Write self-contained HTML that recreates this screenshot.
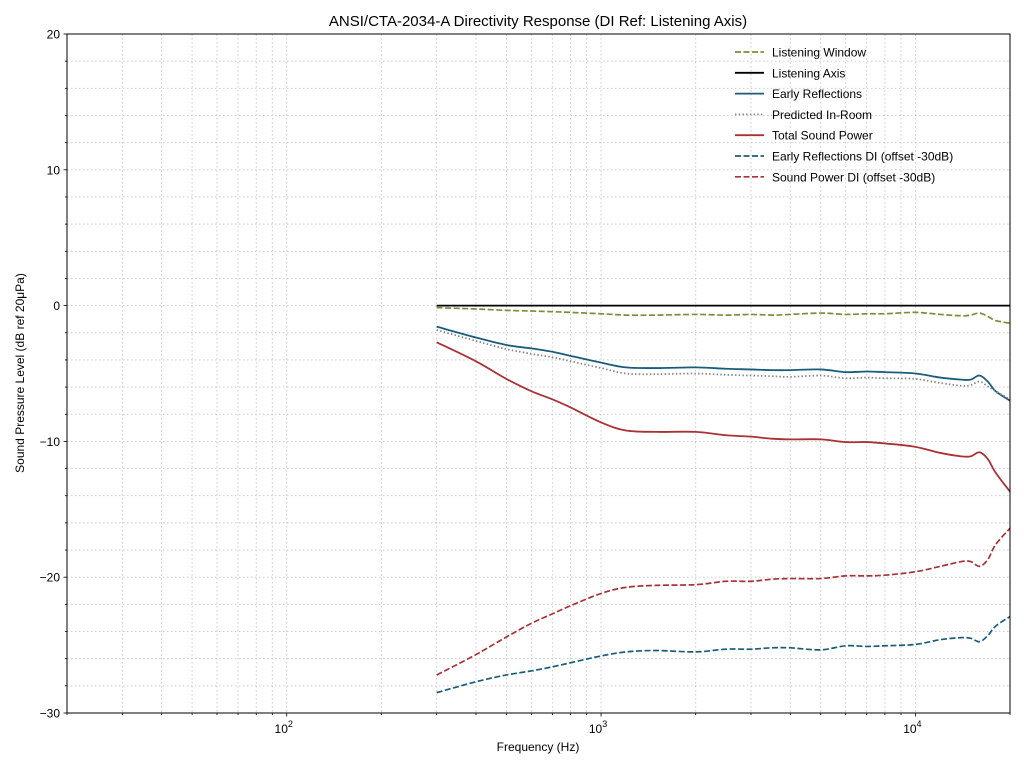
<!DOCTYPE html>
<html><head><meta charset="utf-8"><style>
body{margin:0;background:#fff;}
svg text{font-family:"Liberation Sans","DejaVu Sans",sans-serif;}
</style></head><body>
<svg id="chart" width="1024" height="768" xmlns="http://www.w3.org/2000/svg">
<rect width="1024" height="768" fill="#fff"/>
<text x="538" y="26" text-anchor="middle" font-size="15">ANSI/CTA-2034-A Directivity Response (DI Ref: Listening Axis)</text>
<g id="grid"></g>
<g id="series"></g>
<rect x="67" y="34" width="943" height="679" fill="none" stroke="#000" stroke-width="1"/>
<g id="axes"></g>
<text x="538" y="751" text-anchor="middle" font-size="12">Frequency (Hz)</text>
<text transform="translate(24,373) rotate(-90)" text-anchor="middle" font-size="12">Sound Pressure Level (dB ref 20μPa)</text>
<g id="legend"></g>
</svg>
<script>
const freqs = [300,400,500,600,700,800,1000,1200,1500,2000,2500,3000,3500,4000,5000,6000,7000,8000,10000,12000,14000,15000,16000,17000,18000,20000];
const listeningWindow = [-0.15,-0.25,-0.35,-0.4,-0.45,-0.5,-0.6,-0.7,-0.7,-0.65,-0.7,-0.65,-0.7,-0.65,-0.55,-0.65,-0.6,-0.6,-0.5,-0.65,-0.75,-0.7,-0.55,-0.8,-1.1,-1.3];
const listeningAxis = [0,0,0,0,0,0,0,0,0,0,0,0,0,0,0,0,0,0,0,0,0,0,0,0,0,0];
const earlyReflections = [-1.55,-2.35,-2.9,-3.15,-3.4,-3.7,-4.2,-4.55,-4.6,-4.55,-4.65,-4.7,-4.75,-4.75,-4.7,-4.9,-4.85,-4.9,-5.0,-5.3,-5.45,-5.45,-5.15,-5.6,-6.3,-7.0];
const predictedInRoom = [-1.8,-2.6,-3.2,-3.55,-3.8,-4.1,-4.6,-5.0,-5.05,-5.0,-5.1,-5.15,-5.2,-5.25,-5.15,-5.35,-5.3,-5.35,-5.4,-5.7,-5.9,-5.85,-5.6,-5.95,-6.3,-6.9];
const totalSoundPower = [-2.7,-4.1,-5.4,-6.3,-6.9,-7.5,-8.6,-9.2,-9.3,-9.3,-9.55,-9.65,-9.8,-9.85,-9.85,-10.05,-10.05,-10.15,-10.4,-10.85,-11.1,-11.1,-10.8,-11.3,-12.3,-13.7];
const earlyReflectionsDI = [-28.5,-27.7,-27.2,-26.9,-26.6,-26.3,-25.8,-25.5,-25.4,-25.5,-25.3,-25.3,-25.2,-25.2,-25.35,-25.05,-25.1,-25.05,-24.95,-24.6,-24.45,-24.5,-24.75,-24.3,-23.6,-22.9];
const soundPowerDI = [-27.2,-25.7,-24.4,-23.4,-22.7,-22.1,-21.2,-20.75,-20.6,-20.55,-20.3,-20.3,-20.15,-20.1,-20.1,-19.9,-19.9,-19.85,-19.6,-19.2,-18.85,-18.85,-19.2,-18.7,-17.6,-16.4];
const yTicks = [20,10,0,-10,-20,-30];
const yTickLabels = ["20","10","0","\u221210","\u221220","\u221230"];
const xDecades = [100,1000,10000];
const xDecadeLabels = ["2","3","4"];

const NS="http://www.w3.org/2000/svg";
const L=67,R=1010,T=34,B=713, xmin=20,xmax=20000,ymin=-30,ymax=20;
const X=f=>L+(Math.log10(f)-Math.log10(xmin))/(Math.log10(xmax)-Math.log10(xmin))*(R-L);
const Y=v=>B-(v-ymin)/(ymax-ymin)*(B-T);
function mk(tag,attrs,parent){const e=document.createElementNS(NS,tag);for(const k in attrs)e.setAttribute(k,attrs[k]);parent.appendChild(e);return e;}
const grid=document.getElementById('grid'),axes=document.getElementById('axes');
for(let d=10;d<=10000;d*=10){for(let m=1;m<10;m++){const f=d*m;if(f<xmin||f>xmax)continue;const x=X(f);
 const g=mk('line',{x1:x,x2:x,y1:T,y2:B,stroke:'#c6c6c6','stroke-width':0.9,'stroke-dasharray':'1.5,2.5'},grid);
 
 
 const t=mk('line',{x1:x,x2:x,y1:B,y2:B+(m===1?3.5:2),stroke:'#000','stroke-width':0.8},axes);
 
 
}}
for(let v=ymin;v<=ymax;v+=2){const y=Y(v);const major=(v%10===0);
 if(v>ymin&&v<ymax){const g=mk('line',{x1:L,x2:R,y1:y,y2:y,stroke:'#c6c6c6','stroke-width':0.9,'stroke-dasharray':'1.5,2.5'},grid);
 
 }
 const t=mk('line',{x1:L-(major?3.5:2),x2:L,y1:y,y2:y,stroke:'#000','stroke-width':0.8},axes);
 
 
}
yTicks.forEach((v,i)=>{const t=mk('text',{x:L-7,y:Y(v)+4.5,'text-anchor':'end','font-size':12},axes);t.textContent=yTickLabels[i];
 
 });
xDecades.forEach((f,i)=>{const t=mk('text',{x:X(f)-3,y:B+20,'text-anchor':'middle','font-size':12},axes);
 t.textContent='10';const s=mk('tspan',{dy:-6,'font-size':9},t);s.textContent=xDecadeLabels[i];
 
 });
const series=[
 {name:'Listening Window',data:listeningWindow,color:'#77913a',dash:'6,2.5',w:1.7,id:'listening-window-line'},
 {name:'Listening Axis',data:listeningAxis,color:'#000',dash:'',w:1.8,id:'listening-axis-line'},
 {name:'Early Reflections',data:earlyReflections,color:'#1a5d7a',dash:'',w:1.8,id:'early-reflections-line'},
 {name:'Predicted In-Room',data:predictedInRoom,color:'#888',dash:'1.5,2.2',w:1.8,id:'predicted-in-room-line'},
 {name:'Total Sound Power',data:totalSoundPower,color:'#a83236',dash:'',w:1.8,id:'total-sound-power-line'},
 {name:'Early Reflections DI (offset -30dB)',data:earlyReflectionsDI,color:'#1a5d7a',dash:'6,2.5',w:1.7,id:'early-reflections-di-line'},
 {name:'Sound Power DI (offset -30dB)',data:soundPowerDI,color:'#a83236',dash:'6,2.5',w:1.7,id:'sound-power-di-line'}];
const sg=document.getElementById('series'),lg=document.getElementById('legend');
series.forEach((s,i)=>{
 const pts=freqs.map((f,j)=>[X(f),Y(s.data[j])]);
 let d='M'+pts[0][0]+','+pts[0][1];
 for(let j=0;j<pts.length-1;j++){const p0=pts[j-1]||pts[j],p1=pts[j],p2=pts[j+1],p3=pts[j+2]||p2;
  d+=' C'+(p1[0]+(p2[0]-p0[0])/6)+','+(p1[1]+(p2[1]-p0[1])/6)+' '+(p2[0]-(p3[0]-p1[0])/6)+','+(p2[1]-(p3[1]-p1[1])/6)+' '+p2[0]+','+p2[1];}
 const p=mk('path',{d:d,fill:'none',stroke:s.color,'stroke-width':s.w,'stroke-dasharray':s.dash},sg);
 
 
 const y=52+i*20.8;
 const ll=mk('line',{x1:735,x2:764,y1:y,y2:y,stroke:s.color,'stroke-width':s.w,'stroke-dasharray':s.dash},lg);
 
 
 const t=mk('text',{x:772,y:y+4.5,'font-size':12},lg);t.textContent=s.name;
 
 
});
</script>
</body></html>
